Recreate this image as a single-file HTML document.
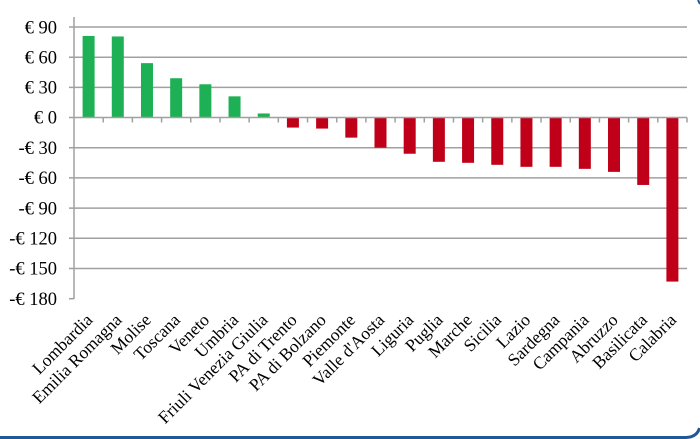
<!DOCTYPE html>
<html><head><meta charset="utf-8"><style>
html,body{margin:0;padding:0;background:#fff;}
svg{display:block;}
text{font-family:"Liberation Serif",serif;fill:#000;}
</style></head><body>
<svg width="700" height="439" viewBox="0 0 700 439" xmlns="http://www.w3.org/2000/svg">
<rect width="700" height="439" fill="#fff"/>
<path d="M0 437.5 L686 437.5 Q697 437 699.5 428" stroke="#1f5a96" stroke-width="3" fill="none"/>
<path d="M698 0 L700 4" stroke="#1f5a96" stroke-width="2"/>
<g id="grid" stroke="#a0a0a0" stroke-width="1.5">
<line x1="69" y1="27" x2="687" y2="27"/>
<line x1="69" y1="57.2" x2="687" y2="57.2"/>
<line x1="69" y1="87.4" x2="687" y2="87.4"/>
<line x1="69" y1="147.7" x2="687" y2="147.7"/>
<line x1="69" y1="177.9" x2="687" y2="177.9"/>
<line x1="69" y1="208.1" x2="687" y2="208.1"/>
<line x1="69" y1="238.3" x2="687" y2="238.3"/>
<line x1="69" y1="268.5" x2="687" y2="268.5"/>
<line x1="69" y1="298.7" x2="74" y2="298.7"/>
<line x1="74" y1="17" x2="74" y2="299"/>
</g>
<g font-size="18.5" text-anchor="end">
<text x="57" y="33.5">€ 90</text>
<text x="57" y="63.5">€ 60</text>
<text x="57" y="93.5">€ 30</text>
<text x="57" y="123.5">€ 0</text>
<text x="57" y="154">-€ 30</text>
<text x="57" y="184">-€ 60</text>
<text x="57" y="214.5">-€ 90</text>
<text x="57" y="244.5">-€ 120</text>
<text x="57" y="274.5">-€ 150</text>
<text x="57" y="305">-€ 180</text>
</g>
<script>
var names=["Lombardia","Emilia Romagna","Molise","Toscana","Veneto","Umbria","Friuli Venezia Giulia","PA di Trento","PA di Bolzano","Piemonte","Valle d'Aosta","Liguria","Puglia","Marche","Sicilia","Lazio","Sardegna","Campania","Abruzzo","Basilicata","Calabria"];
var vals=[81,80.5,54,39,33,21,4,-10,-11,-20,-30,-36,-44,-45,-47,-49,-49,-51,-54,-67,-163];
var ns="http://www.w3.org/2000/svg",svg=document.querySelector("svg");
var y0=117.5,k=30.2/30,w=29.19;
function el(t,a,txt){var e=document.createElementNS(ns,t);for(var i in a)e.setAttribute(i,a[i]);if(txt)e.textContent=txt;svg.appendChild(e);return e;}
for(var i=0;i<21;i++){
 var cx=74+(i+0.5)*w,v=vals[i],h=Math.abs(v)*k;
 el("rect",{x:cx-6,y:v>0?y0-h:y0,width:12,height:h,fill:v>0?"#1db054":"#c00018"});
 el("line",{x1:74+(i+1)*w,y1:y0,x2:74+(i+1)*w,y2:y0+5,stroke:"#a0a0a0","stroke-width":1.5});
 var tx=cx+5,ty=321;
 el("text",{x:tx,y:ty,"font-size":"17.5","text-anchor":"end",transform:"rotate(-45 "+tx+" "+ty+")"},names[i]);
}
el("line",{x1:69,y1:y0,x2:687,y2:y0,stroke:"#a0a0a0","stroke-width":1.5});
</script>
</svg>
</body></html>
